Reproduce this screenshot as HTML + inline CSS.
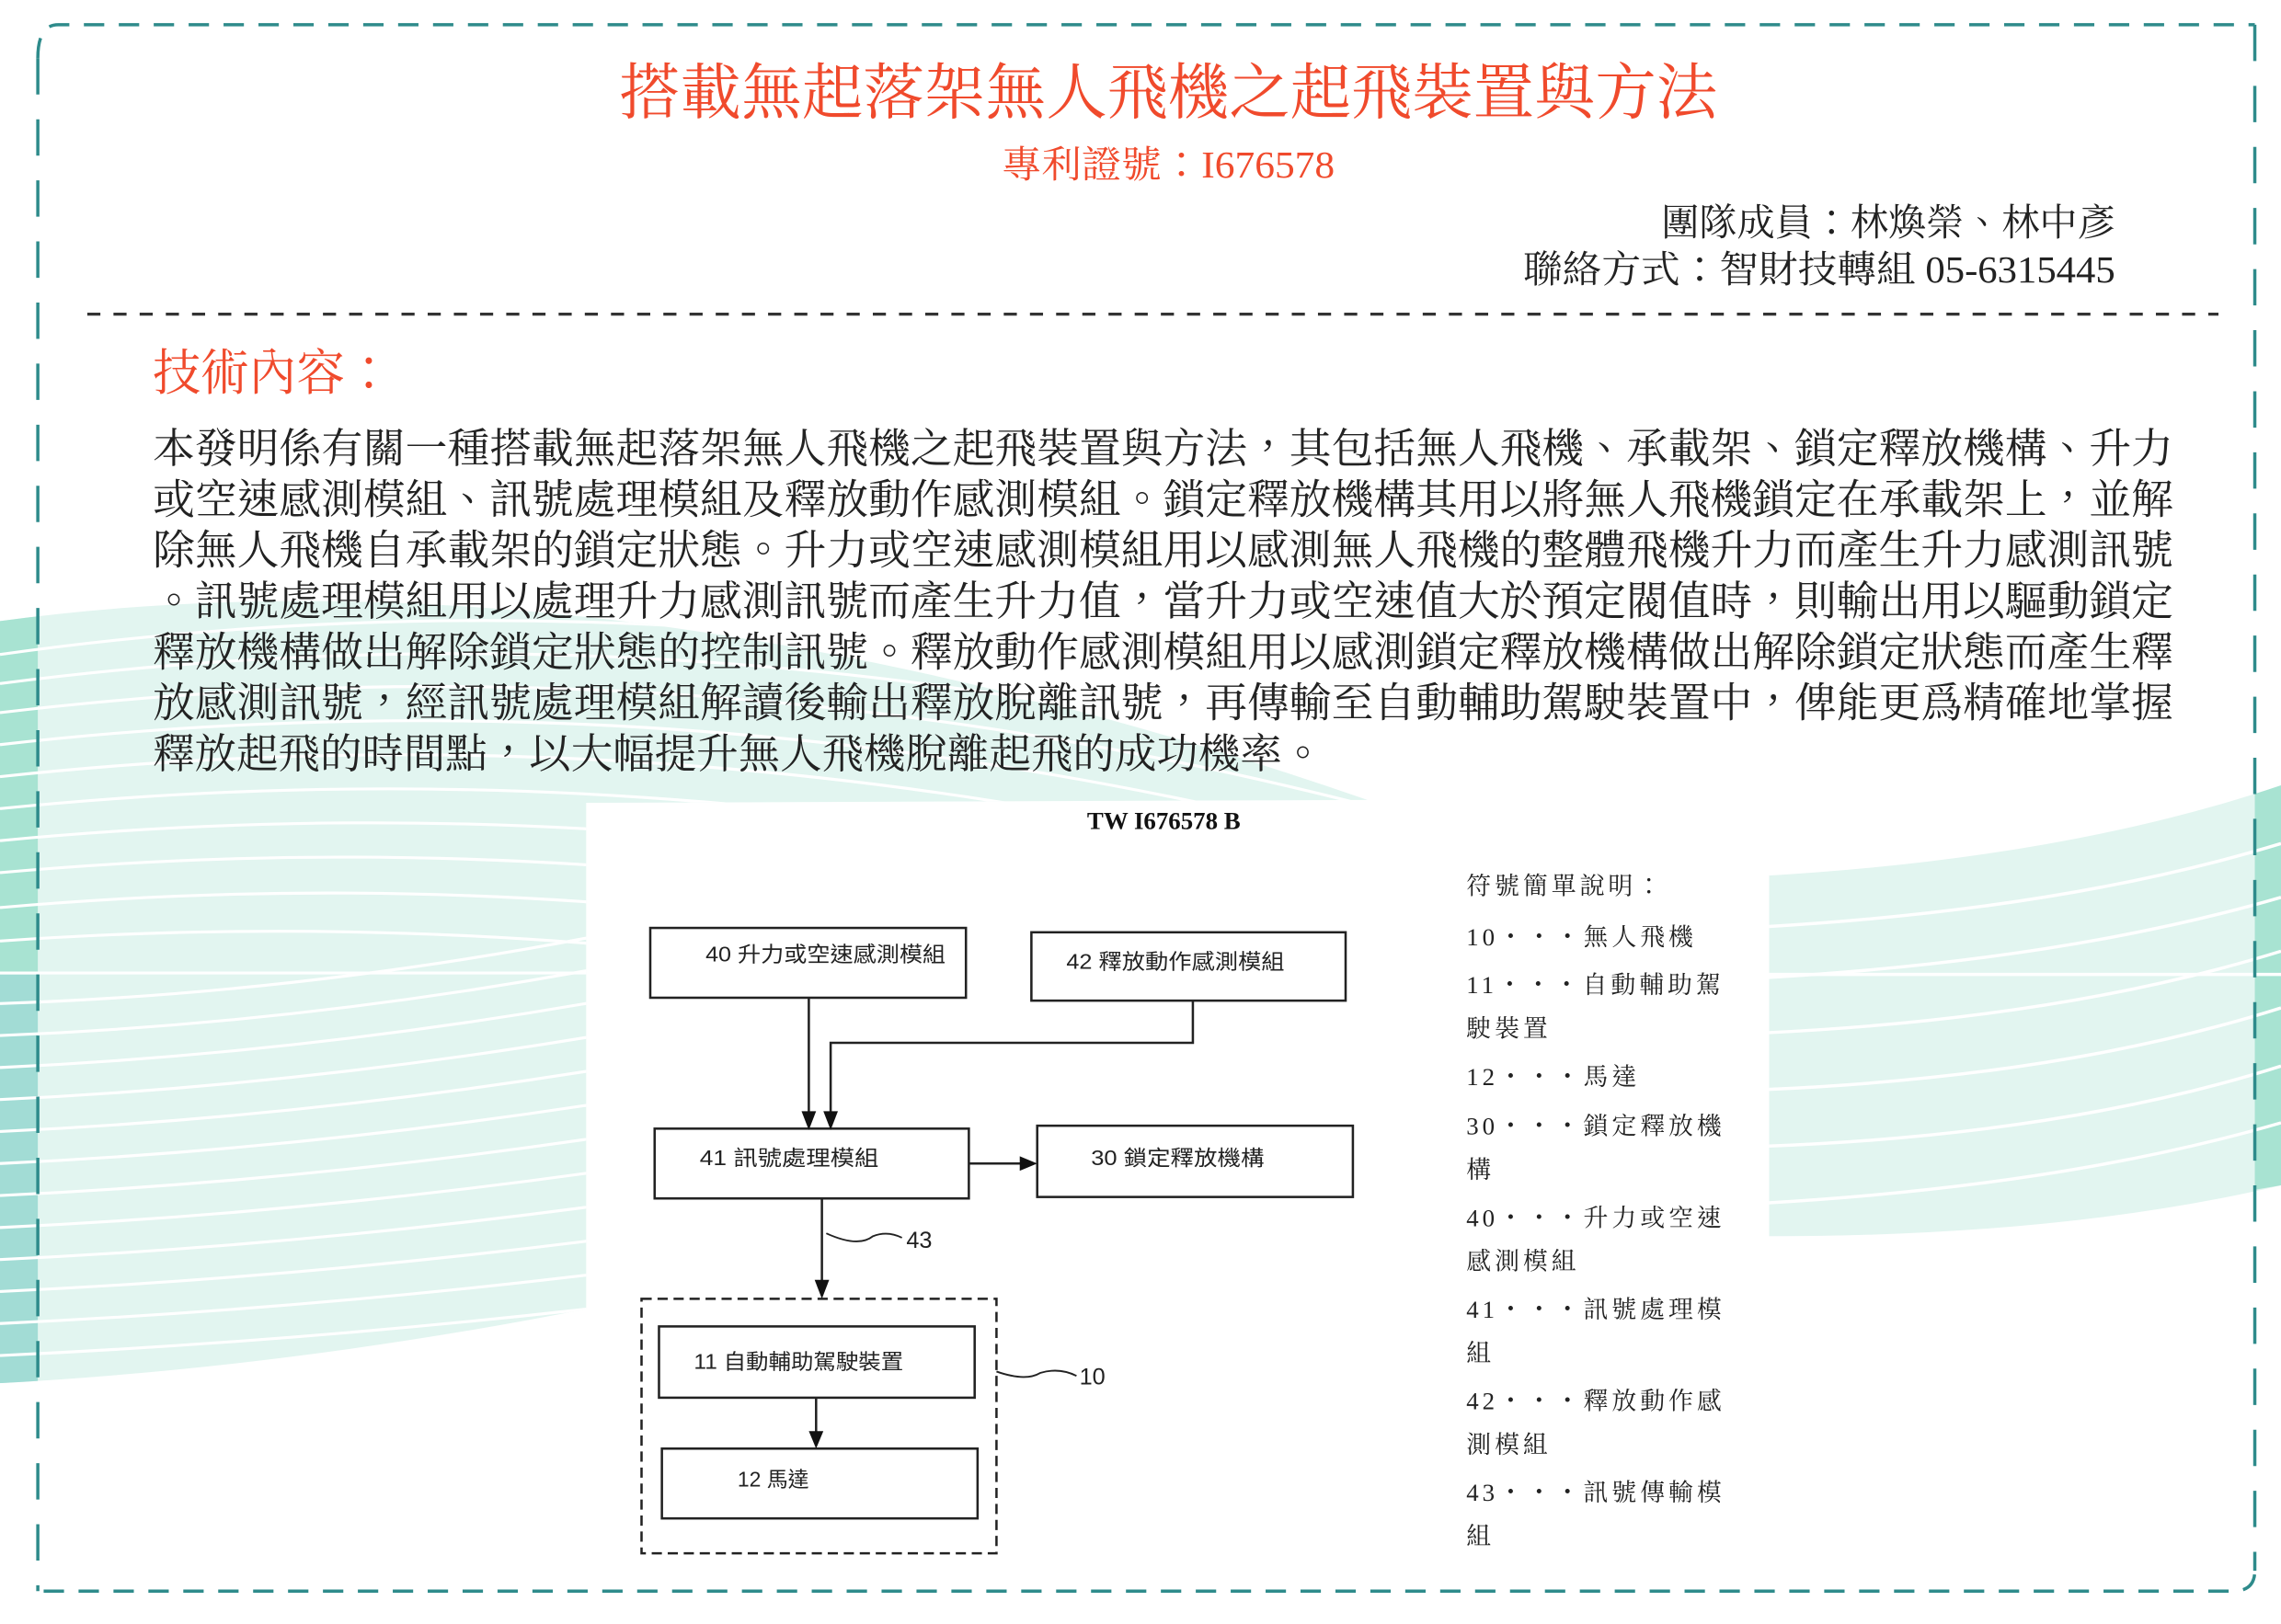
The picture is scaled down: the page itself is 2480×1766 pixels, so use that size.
<!DOCTYPE html>
<html><head><meta charset="utf-8">
<style>
html,body{margin:0;padding:0;background:#fff;}
svg{display:block;}
.serif{font-family:"Liberation Serif","Noto Serif CJK TC","Noto Serif CJK SC",serif;}
.sans{font-family:"Liberation Sans","Noto Sans CJK TC",sans-serif;}
</style></head>
<body>
<svg width="2480" height="1766" viewBox="0 0 1568 1116.6" preserveAspectRatio="none" xmlns="http://www.w3.org/2000/svg">
<defs>
<clipPath id="cl"><path d="M0,427 Q420,370 940,550 L403,552 L403,900 Q200,940 0,951 Z"/></clipPath>
<clipPath id="cr"><path d="M1216,602 Q1420,590 1568,540 L1568,815 Q1420,850 1216,850 Z"/></clipPath>
</defs>
<g clip-path="url(#cl)">
<rect x="0" y="380" width="950" height="600" fill="#e2f5f0"/>
<rect x="0" y="380" width="26" height="290" fill="#a8e3d2"/>
<rect x="0" y="670" width="26" height="300" fill="#a2dcd5"/>
<g fill="none" stroke="#fff" stroke-width="2">
<path d="M0,450 Q500,380 1000,520"/><path d="M0,470 Q500,405 1000,545"/>
<path d="M0,490 Q500,430 1000,570"/><path d="M0,512 Q500,455 1000,595"/>
<path d="M0,534 Q500,480 1000,620"/><path d="M0,556 Q500,505 1000,645"/>
<path d="M0,578 Q500,530 1000,670"/><path d="M0,600 Q500,555 1000,700"/>
<path d="M0,624 Q500,580 1000,730"/><path d="M0,647 Q500,612 1000,760"/>
<path d="M0,669 L500,669"/>
<path d="M0,690 Q300,680 600,600"/><path d="M0,712 Q300,700 600,625"/>
<path d="M0,734 Q300,720 600,650"/><path d="M0,756 Q300,742 600,675"/>
<path d="M0,778 Q300,764 600,700"/><path d="M0,800 Q300,786 600,725"/>
<path d="M0,822 Q300,808 600,750"/><path d="M0,844 Q300,830 600,775"/>
<path d="M0,866 Q300,852 600,800"/><path d="M0,888 Q300,874 600,825"/>
<path d="M0,910 Q300,896 600,850"/><path d="M0,932 Q300,918 600,875"/>
</g>
</g>
<g clip-path="url(#cr)">
<rect x="1216" y="530" width="352" height="330" fill="#e2f5f0"/>
<path d="M1550,540 L1568,540 L1568,815 L1550,818 Z" fill="#a8e3d2"/>
<g fill="none" stroke="#fff" stroke-width="2.2">
<path d="M1216,637 Q1420,625 1568,580"/><path d="M1216,672 Q1420,660 1568,617"/>
<path d="M1216,710 Q1420,700 1568,654"/><path d="M1216,749 Q1420,740 1568,693"/>
<path d="M1216,788 Q1420,780 1568,733"/><path d="M1216,827 Q1420,815 1568,772"/>
<path d="M1216,670 L1568,670"/>
</g>
</g>
<rect x="403" y="552" width="813" height="540" fill="#fff"/>
<path d="M26,40 Q26,17 40,17 L1550,17" fill="none" stroke="#2e8b8b" stroke-width="2.2" stroke-dasharray="14,10"/>
<path d="M26,40 L26,1094" fill="none" stroke="#2e8b8b" stroke-width="2.2" stroke-dasharray="25,17"/>
<path d="M1550,17 L1550,1080" fill="none" stroke="#2e8b8b" stroke-width="2.2" stroke-dasharray="25,17"/>
<path d="M30,1094 L1535,1094 Q1550,1094 1550,1080" fill="none" stroke="#2e8b8b" stroke-width="2.2" stroke-dasharray="14,10"/>
<line x1="60" y1="216" x2="1525" y2="216" stroke="#333" stroke-width="2" stroke-dasharray="9,9"/>
<text class="serif" x="803" y="78" font-size="42" fill="#f04a2c" text-anchor="middle" textLength="755" lengthAdjust="spacingAndGlyphs">搭載無起落架無人飛機之起飛裝置與方法</text>
<text class="serif" x="803" y="122" font-size="26" fill="#f04a2c" text-anchor="middle" textLength="229" lengthAdjust="spacingAndGlyphs">專利證號：I676578</text>
<text class="serif" x="1454" y="162" font-size="26" fill="#222" text-anchor="end" textLength="312" lengthAdjust="spacingAndGlyphs">團隊成員：林煥榮、林中彥</text>
<text class="serif" x="1454" y="194" font-size="26" fill="#222" text-anchor="end" textLength="407" lengthAdjust="spacingAndGlyphs">聯絡方式：智財技轉組 05-6315445</text>
<text class="serif" x="105" y="268" font-size="34" fill="#f04a2c" textLength="165" lengthAdjust="spacingAndGlyphs">技術內容：</text>
<g class="serif" font-size="28.5" fill="#222">
<text x="105" y="318" textLength="1389" lengthAdjust="spacingAndGlyphs">本發明係有關一種搭載無起落架無人飛機之起飛裝置與方法，其包括無人飛機、承載架、鎖定釋放機構、升力</text>
<text x="105" y="353" textLength="1389" lengthAdjust="spacingAndGlyphs">或空速感測模組、訊號處理模組及釋放動作感測模組。鎖定釋放機構其用以將無人飛機鎖定在承載架上，並解</text>
<text x="105" y="388" textLength="1389" lengthAdjust="spacingAndGlyphs">除無人飛機自承載架的鎖定狀態。升力或空速感測模組用以感測無人飛機的整體飛機升力而產生升力感測訊號</text>
<text x="105" y="423" textLength="1389" lengthAdjust="spacingAndGlyphs">。訊號處理模組用以處理升力感測訊號而產生升力值，當升力或空速值大於預定閥值時，則輸出用以驅動鎖定</text>
<text x="105" y="458" textLength="1389" lengthAdjust="spacingAndGlyphs">釋放機構做出解除鎖定狀態的控制訊號。釋放動作感測模組用以感測鎖定釋放機構做出解除鎖定狀態而產生釋</text>
<text x="105" y="493" textLength="1389" lengthAdjust="spacingAndGlyphs">放感測訊號，經訊號處理模組解讀後輸出釋放脫離訊號，再傳輸至自動輔助駕駛裝置中，俾能更爲精確地掌握</text>
<text x="105" y="528" textLength="805" lengthAdjust="spacingAndGlyphs">釋放起飛的時間點，以大幅提升無人飛機脫離起飛的成功機率。</text>
</g>
<text class="serif" x="800" y="570" font-size="17" font-weight="bold" fill="#111" text-anchor="middle">TW I676578 B</text>
<g fill="none" stroke="#222" stroke-width="1.6">
<rect x="447" y="638" width="217" height="48"/>
<rect x="709" y="641" width="216" height="47"/>
<rect x="450" y="776" width="216" height="48"/>
<rect x="713" y="774" width="217" height="49"/>
<rect x="453" y="912" width="217" height="49"/>
<rect x="455" y="996" width="217" height="48"/>
<rect x="441" y="893" width="244" height="175" stroke-dasharray="7,4"/>
<path d="M556,686 L556,766"/>
<path d="M820,688 L820,717 L571,717 L571,766"/>
<path d="M666,800 L703,800"/>
<path d="M565,824 L565,882"/>
<path d="M561,961 L561,986"/>
<path d="M568,848 Q590,858 600,850 Q610,846 620,851" stroke-width="1.2"/>
<path d="M685,943 Q705,950 715,944 Q728,940 740,946" stroke-width="1.2"/>
</g>
<g fill="#111">
<path d="M551,764 L561,764 L556,777 Z"/>
<path d="M566,764 L576,764 L571,777 Z"/>
<path d="M701,795 L701,805 L713,800 Z"/>
<path d="M560,880 L570,880 L565,893 Z"/>
<path d="M556,984 L566,984 L561,996 Z"/>
</g>
<g class="sans" font-size="14.5" fill="#222">
<text x="485" y="661" textLength="165" lengthAdjust="spacingAndGlyphs">40 升力或空速感測模組</text>
<text x="733" y="666" textLength="150" lengthAdjust="spacingAndGlyphs">42 釋放動作感測模組</text>
<text x="481" y="801" textLength="123" lengthAdjust="spacingAndGlyphs">41  訊號處理模組</text>
<text x="750" y="801" textLength="119" lengthAdjust="spacingAndGlyphs">30 鎖定釋放機構</text>
<text x="477" y="941" textLength="144" lengthAdjust="spacingAndGlyphs">11 自動輔助駕駛裝置</text>
<text x="507" y="1022">12  馬達</text>
<text x="623" y="858" font-size="16">43</text>
<text x="742" y="952" font-size="16">10</text>
</g>
<g class="serif" font-size="17" fill="#222" letter-spacing="2.5">
<text x="1008" y="615">符號簡單說明：</text>
<text x="1008" y="650">10・・・無人飛機</text>
<text x="1008" y="683">11・・・自動輔助駕</text>
<text x="1008" y="713">駛裝置</text>
<text x="1008" y="746">12・・・馬達</text>
<text x="1008" y="780">30・・・鎖定釋放機</text>
<text x="1008" y="810">構</text>
<text x="1008" y="843">40・・・升力或空速</text>
<text x="1008" y="873">感測模組</text>
<text x="1008" y="906">41・・・訊號處理模</text>
<text x="1008" y="936">組</text>
<text x="1008" y="969">42・・・釋放動作感</text>
<text x="1008" y="999">測模組</text>
<text x="1008" y="1032">43・・・訊號傳輸模</text>
<text x="1008" y="1062">組</text>
</g>
</svg>
</body></html>
